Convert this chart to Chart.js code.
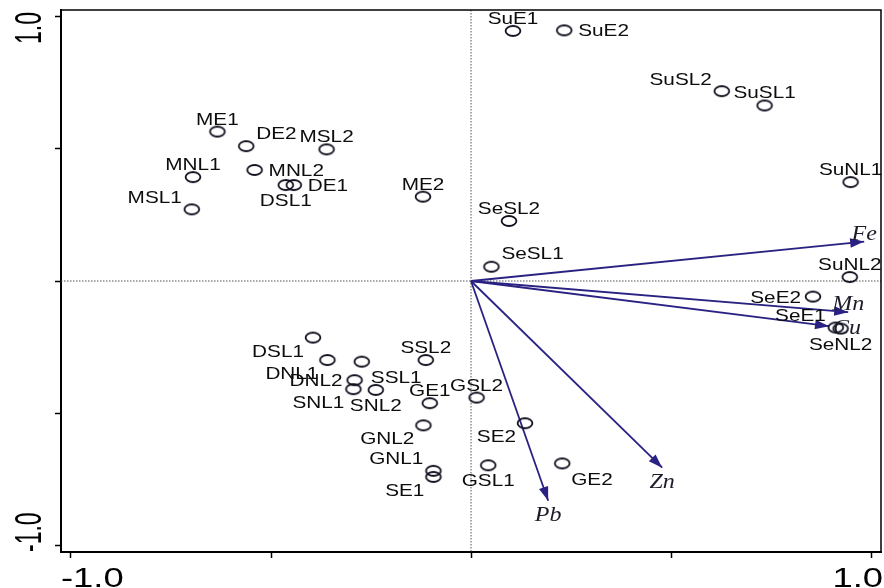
<!DOCTYPE html>
<html>
<head>
	<title>Biplot</title>
	<script src="https://cdn.jsdelivr.net/npm/chart.js@4.4.0/dist/chart.umd.min.js"></script>
	<meta charset="utf-8"/>
	<style>
		body { margin: 0; background: #fff; }
	</style>
</head>
<body>
	<canvas id="myChart" width="884" height="588"></canvas>

	<script>
		// sites (scores)
		var sites = ['SuE1', 'SuE2', 'SuSL2', 'SuSL1', 'SuNL1', 'SuNL2', 'ME1', 'DE2', 'MSL2', 'MNL1',
			'MNL2', 'DSL1', 'DE1', 'MSL1', 'ME2', 'SeSL2', 'SeSL1', 'SeE2', 'SeE1', 'SeNL2',
			'DSL1', 'DNL1', 'SSL1', 'DNL2', 'SNL1', 'SNL2', 'SSL2', 'GE1', 'GSL2', 'GNL2',
			'SE2', 'GNL1', 'SE1', 'GSL1', 'GE2'];
		var siteX = [0.105, 0.233, 0.627, 0.734, 0.949, 0.947, -0.634, -0.562, -0.361, -0.695,
			-0.541, -0.463, -0.443, -0.698, -0.120, 0.095, 0.051, 0.855, 0.912, 0.924,
			-0.395, -0.359, -0.273, -0.291, -0.294, -0.238, -0.113, -0.103, 0.014, -0.119,
			0.135, -0.094, -0.094, 0.043, 0.228];
		var siteY = [0.946, 0.948, 0.718, 0.664, 0.374, 0.015, 0.565, 0.510, 0.498, 0.393,
			0.420, 0.363, 0.363, 0.271, 0.319, 0.227, 0.054, -0.059, -0.176, -0.180,
			-0.214, -0.299, -0.305, -0.375, -0.409, -0.412, -0.299, -0.462, -0.441, -0.546,
			-0.538, -0.718, -0.741, -0.697, -0.690];
		// where each site name sits next to its point
		var siteLabelPos = ['t', 'r', 'tl', 't', 't', 't', 't', 'tr', 't', 't',
			'r', 'b', 'r', 'tl', 't', 't', 'tr', 'l', 'tl', 'b',
			'bl', 'bl', 'br', 'l', 'bl', 'b', 't', 't', 't', 'bl',
			'bl', 'tl', 'bl', 'b', 'br'];

		// metals (vectors)
		var metals = ['Fe', 'Mn', 'Cu', 'Pb', 'Zn'];
		var metalX = [0.983, 0.943, 0.895, 0.193, 0.478];
		var metalY = [0.149, -0.118, -0.171, -0.831, -0.706];
		var metalLabelPos = ['t', 't', 'r', 'b', 'b'];

		var tickValues = [-1.0, -0.5, 0, 0.5, 1.0];
		var labelTicks = [-1.0, 1.0];
		var labelText = ['-1.0', '1.0'];

		var ARROW = '#2a2282';
		var INK = '#10101f';

		function makeRing()
		{
			var c = document.createElement('canvas');
			c.width = 20;
			c.height = 14;
			var g = c.getContext('2d');
			g.strokeStyle = INK;
			g.lineWidth = 1.8;
			g.beginPath();
			g.ellipse(10, 7, 7.4, 5, 0, 0, Math.PI * 2);
			g.stroke();
			return c;
		}

		// offsets of a label from its point: dx, dy, align
		var siteOffsets = {
			t: [0, -13.2, 'center'], b: [0, 15, 'center'],
			r: [14, 0, 'left'], l: [-12, 0, 'right'],
			tl: [-10, -12.5, 'right'], tr: [10, -13.5, 'left'],
			bl: [-9, 13, 'right'], br: [9, 15, 'left']
		};
		var metalOffsets = {
			t: [0, -9, 'center'], b: [0, 13, 'center'], r: [4, 1, 'left']
		};

		function putText(ctx, str, x, y, align, size, family, sx, style)
		{
			ctx.save();
			ctx.translate(x, y);
			ctx.scale(sx, 1);
			ctx.font = (style ? style + ' ' : '') + size + 'px ' + family;
			ctx.textAlign = align;
			ctx.textBaseline = 'alphabetic';
			ctx.fillText(str, 0, size * 0.36);
			ctx.restore();
		}

		var biplotPlugin = {
			id: 'biplot',
			beforeDatasetsDraw: function (chart) {
				var ctx = chart.ctx, area = chart.chartArea;
				var x0 = chart.scales.x.getPixelForValue(0);
				var y0 = chart.scales.y.getPixelForValue(0);
				ctx.save();
				ctx.strokeStyle = '#555';
				ctx.lineWidth = 1;
				ctx.setLineDash([1.5, 1.5]);
				ctx.beginPath();
				ctx.moveTo(area.left, y0);
				ctx.lineTo(area.right, y0);
				ctx.moveTo(x0, area.top);
				ctx.lineTo(x0, area.bottom);
				ctx.stroke();
				ctx.restore();
			},
			afterDatasetsDraw: function (chart) {
				var ctx = chart.ctx;
				// arrow heads
				ctx.save();
				ctx.fillStyle = ARROW;
				for (var i = 0; i < metals.length; i++) {
					var m = chart.getDatasetMeta(i + 1);
					var a = m.data[0], b = m.data[1];
					var ang = Math.atan2(b.y - a.y, b.x - a.x);
					ctx.save();
					ctx.translate(b.x, b.y);
					ctx.rotate(ang);
					ctx.beginPath();
					ctx.moveTo(0, 0);
					ctx.lineTo(-14, -4.8);
					ctx.lineTo(-14, 4.8);
					ctx.closePath();
					ctx.fill();
					ctx.restore();
				}
				ctx.restore();

				// site names
				ctx.fillStyle = '#0d0d0d';
				var meta = chart.getDatasetMeta(0);
				for (var i = 0; i < sites.length; i++) {
					var p = meta.data[i];
					var o = siteOffsets[siteLabelPos[i]];
					putText(ctx, sites[i], p.x + o[0], p.y + o[1], o[2], 17, '"Liberation Sans", Arial, sans-serif', 1.22);
				}
				// metal names
				ctx.fillStyle = '#1d1d2a';
				for (var i = 0; i < metals.length; i++) {
					var tip = chart.getDatasetMeta(i + 1).data[1];
					var o = metalOffsets[metalLabelPos[i]];
					putText(ctx, metals[i], tip.x + o[0], tip.y + o[1], o[2], 20, '"Liberation Serif", "Times New Roman", serif', 1.2, 'italic');
				}
			},
			afterDraw: function (chart) {
				var ctx = chart.ctx, area = chart.chartArea;
				ctx.save();
				ctx.strokeStyle = '#000';
				ctx.lineWidth = 1.5;
				ctx.beginPath();
				ctx.moveTo(area.left, area.top);
				ctx.lineTo(area.right, area.top);
				ctx.lineTo(area.right, area.bottom);
				ctx.stroke();

				// tick labels, kept inside the frame
				ctx.fillStyle = '#000';
				var xs = chart.scales.x, ys = chart.scales.y;
				var size = 28, fam = '"Liberation Sans", Arial, sans-serif';
				ctx.font = size + 'px ' + fam;
				for (var i = 0; i < labelTicks.length; i++) {
					var w = ctx.measureText(labelText[i]).width * 1.3;
					var cx = xs.getPixelForValue(labelTicks[i]);
					cx = Math.max(area.left + w / 2, Math.min(area.right + 2 - w / 2, cx));
					putText(ctx, labelText[i], cx, 577, 'center', size, fam, 1.3);
				}
				var ysize = 23;
				ctx.font = ysize + 'px ' + fam;
				for (var i = 0; i < labelTicks.length; i++) {
					var len = ctx.measureText(labelText[i]).width;
					var cy = ys.getPixelForValue(labelTicks[i]);
					cy = Math.max(area.top + 2 + len / 2, Math.min(area.bottom - len / 2, cy));
					ctx.save();
					ctx.translate(28, cy);
					ctx.rotate(-Math.PI / 2);
					ctx.scale(1, 1.6);
					ctx.font = ysize + 'px ' + fam;
					ctx.textAlign = 'center';
					ctx.textBaseline = 'alphabetic';
					ctx.fillText(labelText[i], 0, ysize * 0.36);
					ctx.restore();
				}
				ctx.restore();
			}
		};

		function showChart()
		{
			var points = [];
			for (var i = 0; i < sites.length; i++) {
				points.push({x: siteX[i], y: siteY[i]});
			}
			var datasets = [{
				label: 'Sites',
				data: points,
				pointStyle: makeRing(),
				pointRadius: 7,
				showLine: false
			}];
			for (var i = 0; i < metals.length; i++) {
				datasets.push({
					label: metals[i],
					data: [{x: 0, y: 0}, {x: metalX[i], y: metalY[i]}],
					showLine: true,
					borderColor: ARROW,
					borderWidth: 1.8,
					pointRadius: 0
				});
			}

			var axisOpts = function (fitFn) {
				return {
					type: 'linear',
					min: -1.025,
					max: 1.025,
					afterBuildTicks: function (s) {
						s.ticks = tickValues.map(function (v) { return {value: v}; });
					},
					afterFit: fitFn,
					ticks: { display: false },
					grid: {
						drawOnChartArea: false,
						drawTicks: true,
						tickLength: 6,
						tickWidth: 1.5,
						tickColor: '#000',
						color: 'rgba(0,0,0,0)'
					},
					border: { display: true, color: '#000', width: 2 }
				};
			};

			new Chart(document.getElementById('myChart'), {
				type: 'scatter',
				data: { datasets: datasets },
				options: {
					responsive: false,
					animation: false,
					layout: { autoPadding: false, padding: { top: 10, right: 3, left: 0, bottom: 0 } },
					plugins: {
						legend: { display: false },
						tooltip: { enabled: false }
					},
					scales: {
						x: Object.assign(axisOpts(function (s) { s.height = 36; }), { position: 'bottom' }),
						y: Object.assign(axisOpts(function (s) { s.width = 61; }), { position: 'left' })
					}
				},
				plugins: [biplotPlugin]
			});
		}

		showChart();
	</script>
</body>
</html>
